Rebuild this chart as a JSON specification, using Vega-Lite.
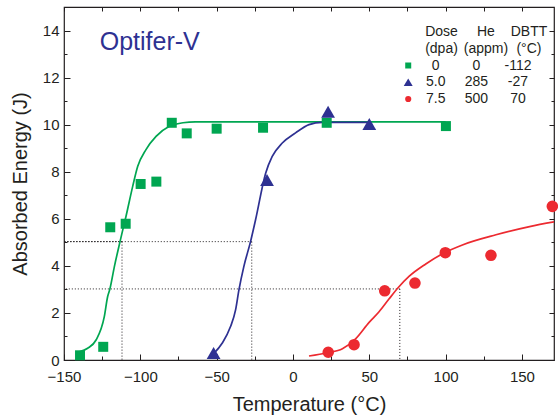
{
  "$schema": "https://vega.github.io/schema/vega-lite/v6.json",
  "width": 490,
  "height": 353,
  "autosize": {"type": "none"},
  "padding": {"left": 64, "top": 7, "right": 4, "bottom": 56},
  "background": "white",
  "datasets": {
    "curves": [
      {"series": "0 dpa", "T": -140, "E": 0.35},
      {"series": "0 dpa", "T": -134.5, "E": 0.5},
      {"series": "0 dpa", "T": -129, "E": 0.85},
      {"series": "0 dpa", "T": -123.6, "E": 1.84},
      {"series": "0 dpa", "T": -121.4, "E": 2.7},
      {"series": "0 dpa", "T": -120, "E": 3.0},
      {"series": "0 dpa", "T": -117, "E": 3.97},
      {"series": "0 dpa", "T": -113.3, "E": 5.03},
      {"series": "0 dpa", "T": -111.5, "E": 5.53},
      {"series": "0 dpa", "T": -109.4, "E": 6.1},
      {"series": "0 dpa", "T": -105, "E": 7.38},
      {"series": "0 dpa", "T": -101.7, "E": 8.23},
      {"series": "0 dpa", "T": -96.3, "E": 8.94},
      {"series": "0 dpa", "T": -89.7, "E": 9.5},
      {"series": "0 dpa", "T": -81, "E": 9.93},
      {"series": "0 dpa", "T": -72, "E": 10.08},
      {"series": "0 dpa", "T": -64, "E": 10.12},
      {"series": "0 dpa", "T": 100, "E": 10.12},
      {"series": "5.0 dpa", "T": -51.8, "E": 0.28},
      {"series": "5.0 dpa", "T": -46.4, "E": 0.71},
      {"series": "5.0 dpa", "T": -40.9, "E": 1.42},
      {"series": "5.0 dpa", "T": -37.6, "E": 2.13},
      {"series": "5.0 dpa", "T": -35.4, "E": 2.98},
      {"series": "5.0 dpa", "T": -32.2, "E": 3.97},
      {"series": "5.0 dpa", "T": -27.8, "E": 5.03},
      {"series": "5.0 dpa", "T": -24.5, "E": 5.96},
      {"series": "5.0 dpa", "T": -17.9, "E": 7.94},
      {"series": "5.0 dpa", "T": -13.6, "E": 8.65},
      {"series": "5.0 dpa", "T": -7, "E": 9.22},
      {"series": "5.0 dpa", "T": 1.7, "E": 9.65},
      {"series": "5.0 dpa", "T": 10.5, "E": 10.0},
      {"series": "5.0 dpa", "T": 19.2, "E": 10.1},
      {"series": "5.0 dpa", "T": 50, "E": 10.1},
      {"series": "7.5 dpa", "T": 10.5, "E": 0.17},
      {"series": "7.5 dpa", "T": 22.5, "E": 0.31},
      {"series": "7.5 dpa", "T": 32.4, "E": 0.48},
      {"series": "7.5 dpa", "T": 41, "E": 0.9},
      {"series": "7.5 dpa", "T": 49.9, "E": 1.6},
      {"series": "7.5 dpa", "T": 56.4, "E": 2.05},
      {"series": "7.5 dpa", "T": 63, "E": 2.6},
      {"series": "7.5 dpa", "T": 69, "E": 3.08},
      {"series": "7.5 dpa", "T": 76, "E": 3.55},
      {"series": "7.5 dpa", "T": 87, "E": 4.08},
      {"series": "7.5 dpa", "T": 99, "E": 4.55},
      {"series": "7.5 dpa", "T": 111, "E": 4.89},
      {"series": "7.5 dpa", "T": 133, "E": 5.32},
      {"series": "7.5 dpa", "T": 155, "E": 5.67},
      {"series": "7.5 dpa", "T": 173, "E": 5.89}
    ],
    "obs": [
      {"series": "0 dpa", "T": -139.5, "E": 0.2},
      {"series": "0 dpa", "T": -124.3, "E": 0.56},
      {"series": "0 dpa", "T": -119.7, "E": 5.64},
      {"series": "0 dpa", "T": -109.6, "E": 5.79},
      {"series": "0 dpa", "T": -99.8, "E": 7.48},
      {"series": "0 dpa", "T": -89.5, "E": 7.58},
      {"series": "0 dpa", "T": -79.4, "E": 10.08},
      {"series": "0 dpa", "T": -69.6, "E": 9.63},
      {"series": "0 dpa", "T": -50, "E": 9.83},
      {"series": "0 dpa", "T": -19.6, "E": 9.87},
      {"series": "0 dpa", "T": 22.1, "E": 10.08},
      {"series": "0 dpa", "T": 100.2, "E": 9.94},
      {"series": "5.0 dpa", "T": -52, "E": 0.3},
      {"series": "5.0 dpa", "T": -17, "E": 7.65},
      {"series": "5.0 dpa", "T": 23, "E": 10.55},
      {"series": "5.0 dpa", "T": 50, "E": 10.03},
      {"series": "7.5 dpa", "T": 23.1, "E": 0.33},
      {"series": "7.5 dpa", "T": 40, "E": 0.65},
      {"series": "7.5 dpa", "T": 60.1, "E": 2.94},
      {"series": "7.5 dpa", "T": 79.9, "E": 3.27},
      {"series": "7.5 dpa", "T": 99.8, "E": 4.56},
      {"series": "7.5 dpa", "T": 129.7, "E": 4.45},
      {"series": "7.5 dpa", "T": 169.9, "E": 6.53}
    ],
    "dbtt": [
      {"series": "0 dpa", "T": -112, "E": 5.03},
      {"series": "5.0 dpa", "T": -27, "E": 5.03},
      {"series": "7.5 dpa", "T": 70, "E": 3.02}
    ],
    "key": [
      {"row": "head1", "dose": "Dose", "he": "He", "dbtt": "DBTT"},
      {"row": "head2", "dose": "(dpa)", "he": "(appm)", "dbtt": "(°C)"},
      {"row": "s0", "series": "0 dpa", "dose": "0", "he": "0", "dbtt": "-112"},
      {"row": "s5", "series": "5.0 dpa", "dose": "5.0", "he": "285", "dbtt": "-27"},
      {"row": "s7", "series": "7.5 dpa", "dose": "7.5", "he": "500", "dbtt": "70"}
    ],
    "label": [{"label": "Optifer-V"}]
  },
  "layer": [
    {
      "data": {"name": "dbtt"},
      "mark": {"type": "rule", "strokeDash": [1, 2], "strokeWidth": 1, "color": "#231f20"},
      "encoding": {
        "x": {"field": "T", "type": "quantitative", "scale": {"domain": [-150, 171], "nice": false, "zero": false}, "axis": null},
        "y": {"field": "E", "type": "quantitative", "scale": {"domain": [0, 15], "nice": false, "zero": false}, "axis": null},
        "y2": {"datum": 0}
      }
    },
    {
      "data": {"name": "dbtt"},
      "mark": {"type": "rule", "strokeDash": [1, 2], "strokeWidth": 1, "color": "#231f20"},
      "encoding": {
        "x": {"field": "T", "type": "quantitative", "scale": {"domain": [-150, 171], "nice": false, "zero": false}, "axis": null},
        "x2": {"datum": -150},
        "y": {"field": "E", "type": "quantitative", "scale": {"domain": [0, 15], "nice": false, "zero": false}, "axis": null}
      }
    },
    {
      "data": {"name": "curves"},
      "mark": {"type": "line", "interpolate": "monotone", "strokeWidth": 1.7, "clip": true},
      "encoding": {
        "x": {
          "field": "T", "type": "quantitative",
          "scale": {"domain": [-150, 171], "nice": false, "zero": false},
          "axis": {
            "orient": "bottom",
            "values": [-150, -125, -100, -75, -50, -25, 0, 25, 50, 75, 100, 125, 150],
            "labelExpr": "datum.value % 50 === 0 ? datum.label : ''",
            "tickSize": {"condition": {"test": "datum.value % 50 === 0", "value": -6}, "value": -4},
            "labelPadding": 15,
            "title": "Temperature (°C)",
            "titlePadding": 8
          }
        },
        "y": {
          "field": "E", "type": "quantitative",
          "scale": {"domain": [0, 15], "nice": false, "zero": false},
          "axis": {
            "orient": "left",
            "values": [0, 1, 2, 3, 4, 5, 6, 7, 8, 9, 10, 11, 12, 13, 14],
            "labelExpr": "datum.value % 2 === 0 ? datum.label : ''",
            "tickSize": {"condition": {"test": "datum.value % 2 === 0", "value": -6}, "value": -3},
            "labelPadding": 11,
            "title": "Absorbed Energy (J)",
            "titlePadding": 12
          }
        },
        "color": {
          "field": "series", "type": "nominal",
          "scale": {"domain": ["0 dpa", "5.0 dpa", "7.5 dpa"], "range": ["#00a651", "#2e3192", "#ec2a30"]},
          "legend": null
        }
      }
    },
    {
      "data": {"name": "obs"},
      "mark": {"type": "point", "filled": true, "opacity": 1, "strokeWidth": 0},
      "encoding": {
        "x": {
          "field": "T", "type": "quantitative",
          "scale": {"domain": [-150, 171], "nice": false, "zero": false},
          "axis": {
            "orient": "top",
            "values": [-150, -125, -100, -75, -50, -25, 0, 25, 50, 75, 100, 125, 150],
            "labels": false,
            "tickSize": -4,
            "title": null
          }
        },
        "y": {
          "field": "E", "type": "quantitative",
          "scale": {"domain": [0, 15], "nice": false, "zero": false},
          "axis": {
            "orient": "right",
            "values": [0, 1, 2, 3, 4, 5, 6, 7, 8, 9, 10, 11, 12, 13, 14],
            "labels": false,
            "tickSize": {"condition": {"test": "datum.value % 2 === 0", "value": -5}, "value": -3},
            "title": null
          }
        },
        "color": {"field": "series", "type": "nominal", "legend": null},
        "shape": {
          "field": "series", "type": "nominal",
          "scale": {"domain": ["0 dpa", "5.0 dpa", "7.5 dpa"], "range": ["square", "triangle-up", "circle"]},
          "legend": null
        },
        "size": {
          "condition": [
            {"test": "datum.series === '5.0 dpa'", "value": 190},
            {"test": "datum.series === '7.5 dpa'", "value": 135}
          ],
          "value": 100
        }
      }
    },
    {
      "data": {"name": "label"},
      "mark": {"type": "text", "align": "left", "baseline": "middle", "fontSize": 25, "color": "#2e3192"},
      "encoding": {
        "x": {"datum": -126.6, "type": "quantitative", "scale": {"domain": [-150, 171], "nice": false, "zero": false}, "axis": null},
        "y": {"datum": 13.5, "type": "quantitative", "scale": {"domain": [0, 15], "nice": false, "zero": false}, "axis": null},
        "text": {"field": "label"}
      }
    },
    {
      "data": {"name": "key"},
      "transform": [{"filter": "isValid(datum.series)"}],
      "mark": {"type": "point", "filled": true, "opacity": 1, "strokeWidth": 0},
      "encoding": {
        "x": {"datum": 75.5, "type": "quantitative", "scale": {"domain": [-150, 171], "nice": false, "zero": false}, "axis": null},
        "y": {"field": "row", "type": "ordinal", "scale": {"type": "point", "domain": ["head1", "head2", "s0", "s5", "s7"], "range": [25, 92], "padding": 0}, "axis": null},
        "color": {"field": "series", "type": "nominal", "legend": null},
        "shape": {"field": "series", "type": "nominal", "legend": null},
        "size": {
          "condition": [
            {"test": "datum.series === '5.0 dpa'", "value": 80},
            {"test": "datum.series === '7.5 dpa'", "value": 38}
          ],
          "value": 36
        }
      }
    },
    {
      "data": {"name": "key"},
      "transform": [{"filter": "!isValid(datum.series)"}],
      "mark": {"type": "text", "align": "center", "baseline": "middle", "fontSize": 14, "color": "#231f20"},
      "encoding": {
        "x": {"datum": 97.3, "type": "quantitative", "scale": {"domain": [-150, 171], "nice": false, "zero": false}, "axis": null},
        "y": {"field": "row", "type": "ordinal", "scale": {"type": "point", "domain": ["head1", "head2", "s0", "s5", "s7"], "range": [25, 92], "padding": 0}, "axis": null},
        "text": {"field": "dose"}
      }
    },
    {
      "data": {"name": "key"},
      "transform": [{"filter": "isValid(datum.series)"}],
      "mark": {"type": "text", "align": "center", "baseline": "middle", "fontSize": 14, "color": "#231f20"},
      "encoding": {
        "x": {"datum": 93.5, "type": "quantitative", "scale": {"domain": [-150, 171], "nice": false, "zero": false}, "axis": null},
        "y": {"field": "row", "type": "ordinal", "scale": {"type": "point", "domain": ["head1", "head2", "s0", "s5", "s7"], "range": [25, 92], "padding": 0}, "axis": null},
        "text": {"field": "dose"}
      }
    },
    {
      "data": {"name": "key"},
      "transform": [{"filter": "!isValid(datum.series)"}],
      "mark": {"type": "text", "align": "center", "baseline": "middle", "fontSize": 14, "color": "#231f20"},
      "encoding": {
        "x": {"datum": 126.4, "type": "quantitative", "scale": {"domain": [-150, 171], "nice": false, "zero": false}, "axis": null},
        "y": {"field": "row", "type": "ordinal", "scale": {"type": "point", "domain": ["head1", "head2", "s0", "s5", "s7"], "range": [25, 92], "padding": 0}, "axis": null},
        "text": {"field": "he"}
      }
    },
    {
      "data": {"name": "key"},
      "transform": [{"filter": "isValid(datum.series)"}],
      "mark": {"type": "text", "align": "center", "baseline": "middle", "fontSize": 14, "color": "#231f20"},
      "encoding": {
        "x": {"datum": 120.2, "type": "quantitative", "scale": {"domain": [-150, 171], "nice": false, "zero": false}, "axis": null},
        "y": {"field": "row", "type": "ordinal", "scale": {"type": "point", "domain": ["head1", "head2", "s0", "s5", "s7"], "range": [25, 92], "padding": 0}, "axis": null},
        "text": {"field": "he"}
      }
    },
    {
      "data": {"name": "key"},
      "transform": [{"filter": "!isValid(datum.series)"}],
      "mark": {"type": "text", "align": "center", "baseline": "middle", "fontSize": 14, "color": "#231f20"},
      "encoding": {
        "x": {"datum": 154.6, "type": "quantitative", "scale": {"domain": [-150, 171], "nice": false, "zero": false}, "axis": null},
        "y": {"field": "row", "type": "ordinal", "scale": {"type": "point", "domain": ["head1", "head2", "s0", "s5", "s7"], "range": [25, 92], "padding": 0}, "axis": null},
        "text": {"field": "dbtt"}
      }
    },
    {
      "data": {"name": "key"},
      "transform": [{"filter": "isValid(datum.series)"}],
      "mark": {"type": "text", "align": "center", "baseline": "middle", "fontSize": 14, "color": "#231f20"},
      "encoding": {
        "x": {"datum": 147.4, "type": "quantitative", "scale": {"domain": [-150, 171], "nice": false, "zero": false}, "axis": null},
        "y": {"field": "row", "type": "ordinal", "scale": {"type": "point", "domain": ["head1", "head2", "s0", "s5", "s7"], "range": [25, 92], "padding": 0}, "axis": null},
        "text": {"field": "dbtt"}
      }
    }
  ],
  "resolve": {
    "scale": {"y": "independent"},
    "axis": {"x": "independent", "y": "independent"}
  },
  "config": {
    "view": {"stroke": "#231f20", "strokeWidth": 1.2},
    "axis": {
      "domain": false,
      "grid": false,
      "labelFont": "Liberation Sans",
      "labelFontSize": 15,
      "labelColor": "#231f20",
      "tickColor": "#231f20",
      "tickWidth": 1,
      "titleFont": "Liberation Sans",
      "titleFontSize": 20,
      "titleFontWeight": "normal",
      "titleColor": "#231f20",
      "labelFlush": false,
      "labelOverlap": false,
      "labelBound": false
    },
    "text": {"font": "Liberation Sans"}
  }
}
